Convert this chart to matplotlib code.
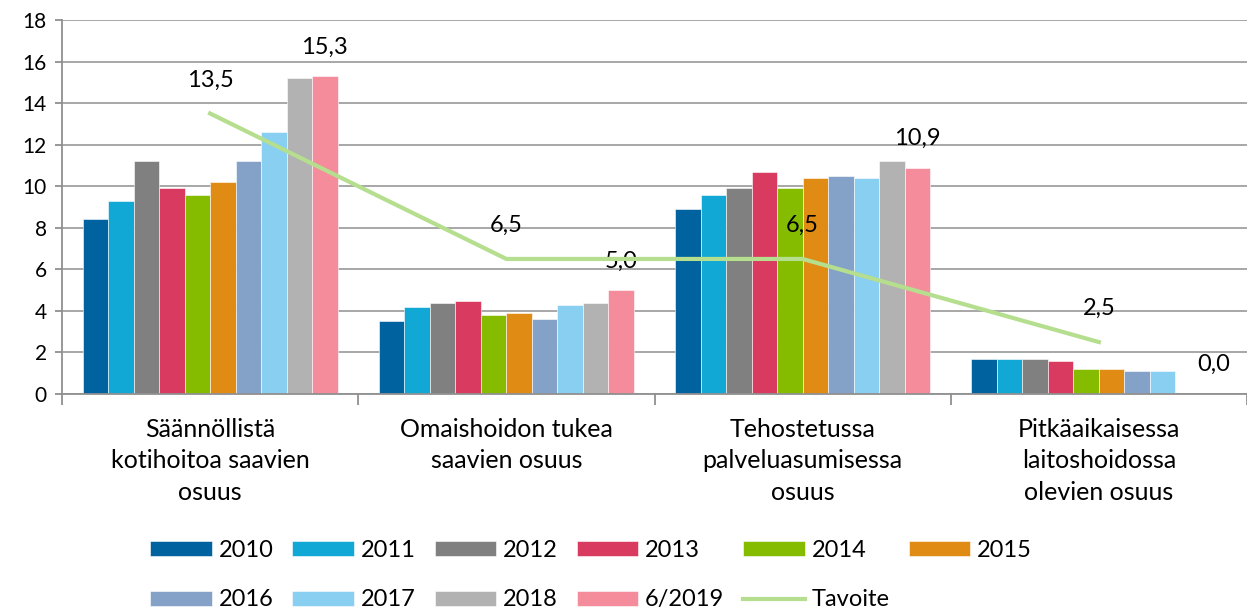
import numpy as np
import matplotlib.pyplot as plt

plt.rcParams['font.family'] = ['Lato', 'DejaVu Sans']

ryhmat = ["Säännöllistä\nkotihoitoa saavien\nosuus",
          "Omaishoidon tukea\nsaavien osuus",
          "Tehostetussa\npalveluasumisessa\nosuus",
          "Pitkäaikaisessa\nlaitoshoidossa\nolevien osuus"]
vuodet = ["2010", "2011", "2012", "2013", "2014", "2015",
          "2016", "2017", "2018", "6/2019"]
v2010 = [8.4, 3.5, 8.9, 1.7]
v2011 = [9.3, 4.2, 9.6, 1.7]
v2012 = [11.2, 4.4, 9.9, 1.7]
v2013 = [9.9, 4.5, 10.7, 1.6]
v2014 = [9.6, 3.8, 9.9, 1.2]
v2015 = [10.2, 3.9, 10.4, 1.2]
v2016 = [11.2, 3.6, 10.5, 1.1]
v2017 = [12.6, 4.3, 10.4, 1.1]
v2018 = [15.2, 4.4, 11.2, np.nan]
v2019 = [15.3, 5.0, 10.9, 0.0]
tavoite = [13.5, 6.5, 6.5, 2.5]

sarjat = [v2010, v2011, v2012, v2013, v2014, v2015, v2016, v2017, v2018, v2019]
varit = ["#00629E", "#12A8D6", "#808080", "#D93A60", "#85BC00", "#E08B14",
         "#84A2C8", "#88CFF2", "#B2B2B2", "#F48C9C"]

fig = plt.figure(figsize=(12.47, 6.12), dpi=100)
ax = fig.add_axes([62/1247, 1 - 394/612, 1 - 62/1247, 374/612])

x = np.arange(len(ryhmat))
w = 0.086
for j, (s, c, nimi) in enumerate(zip(sarjat, varit, vuodet)):
    ax.bar(x + (j - 4.5) * w, s, w, color=c, edgecolor='white',
           linewidth=0.4, label=nimi, zorder=2)

# arvot viimeisen sarjan päälle
for i, v in enumerate(v2019):
    ax.annotate(f"{v:.1f}".replace('.', ','), (x[i] + 4.5 * w, v),
                xytext=(0, 21), textcoords='offset points',
                ha='center', va='center', fontsize=17)

ax.plot(x, tavoite, color="#B5DE8E", lw=3, label="Tavoite", zorder=3)
for i, v in enumerate(tavoite):
    ax.annotate(f"{v:.1f}".replace('.', ','), (x[i], v),
                xytext=(0, 24), textcoords='offset points',
                ha='center', va='center', fontsize=17)

ax.set_xlim(-0.5, 3.5)
ax.set_ylim(0, 18)
ax.set_yticks(range(0, 19, 2))
ax.yaxis.grid(True, color="#A0A0A0", lw=1.3, zorder=0)
ax.set_axisbelow(True)
for s in ['top', 'right']:
    ax.spines[s].set_visible(False)
ax.spines['left'].set_color("#909090")
ax.spines['bottom'].set_color("#909090")
ax.spines['left'].set_linewidth(1.3)
ax.spines['bottom'].set_linewidth(1.3)

ax.set_xticks(x)
ax.set_xticklabels(ryhmat, fontsize=18, linespacing=1.45)
ax.tick_params(axis='x', length=0, pad=17)
ax.set_xticks(np.arange(-0.5, 4, 1), minor=True)
ax.tick_params(axis='x', which='minor', length=8, color="#909090", width=1.3)
ax.tick_params(axis='y', labelsize=15, length=5, color="#909090", width=1.3, pad=6)

# legenda riveittäin: 2010-2015 ylhäällä, loput alhaalla
h, l = ax.get_legend_handles_labels()
kahva = dict(zip(l, h))
nimet = vuodet + ["Tavoite"]
jarj = [0, 6, 1, 7, 2, 8, 3, 9, 4, 10, 5]
fig.legend([kahva[nimet[k]] for k in jarj], [nimet[k] for k in jarj],
           ncol=6, loc='center', bbox_to_anchor=(0.474, 0.060), frameon=False,
           fontsize=17, handlelength=2.6, handleheight=0.6, handletextpad=0.3,
           columnspacing=0.8, labelspacing=1.2)

fig.savefig("out.png", dpi=100)
